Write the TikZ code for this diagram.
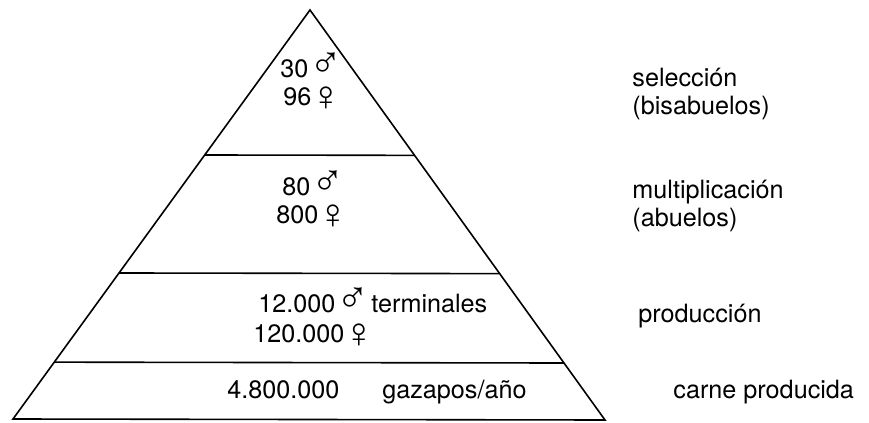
\documentclass[tikz,border=0pt]{standalone}
\usepackage{fontspec}
\setmainfont{TeX Gyre Heros}
\newfontfamily\sexfont{Liberation Sans}
\usetikzlibrary{calc}

\newcommand{\male}{\makebox[11pt][c]{\smash{\sexfont\fontsize{22pt}{22pt}\selectfont ♂}}}
\newcommand{\female}{\makebox[8pt][c]{\smash{\raisebox{-2.5pt}{\sexfont\fontsize{21pt}{21pt}\selectfont ♀}}}}

\begin{document}
\begin{tikzpicture}[x=0.5pt,y=-0.5pt,
                    txt/.style={anchor=base west,inner sep=0pt,font=\fontsize{12.6pt}{15pt}\selectfont},
                    level/.style={line width=0.8pt}]
  \useasboundingbox (0,0) rectangle (869,423);

  \coordinate (top) at (310,10);
  \coordinate (bl) at (13,419);
  \coordinate (br) at (605,420);

  \draw[level] (top) -- (bl) -- (br) -- cycle;
  \draw[level] ($(top)!0.3545!(bl)$) -- ($(top)!0.3545!(br)$);
  \draw[level] ($(top)!0.643!(bl)$) -- ($(top)!0.643!(br)$);
  \draw[level] ($(top)!0.861!(bl)$) -- ($(top)!0.861!(br)$);

  % seleccion
  \node[txt] (selm) at (280,77) {30 \male};
  \node[txt] (self) at (283,105) {96 \female};
  % multiplicacion
  \node[txt] (multm) at (282,195) {80 \male};
  \node[txt] (multf) at (276,223) {800 \female};
  % produccion
  \node[txt] (prodm) at (258,312) {12.000 \male{} terminales};
  \node[txt] (prodf) at (253,342) {120.000 \female};
  % carne
  \node[txt] (gaz) at (227,398) {4.800.000};
  \node[txt] (gazunit) at (382,398) {gazapos/año};

  \node[txt] (lblsel) at (632,86) {selección};
  \node[txt] (lblselb) at (632,114) {(bisabuelos)};
  \node[txt] (lblmult) at (632,198) {multiplicación};
  \node[txt] (lblmultb) at (632,226) {(abuelos)};
  \node[txt] (lblprod) at (638,322) {producción};
  \node[txt] (lblcarne) at (673,398) {carne producida};
\end{tikzpicture}
\end{document}
